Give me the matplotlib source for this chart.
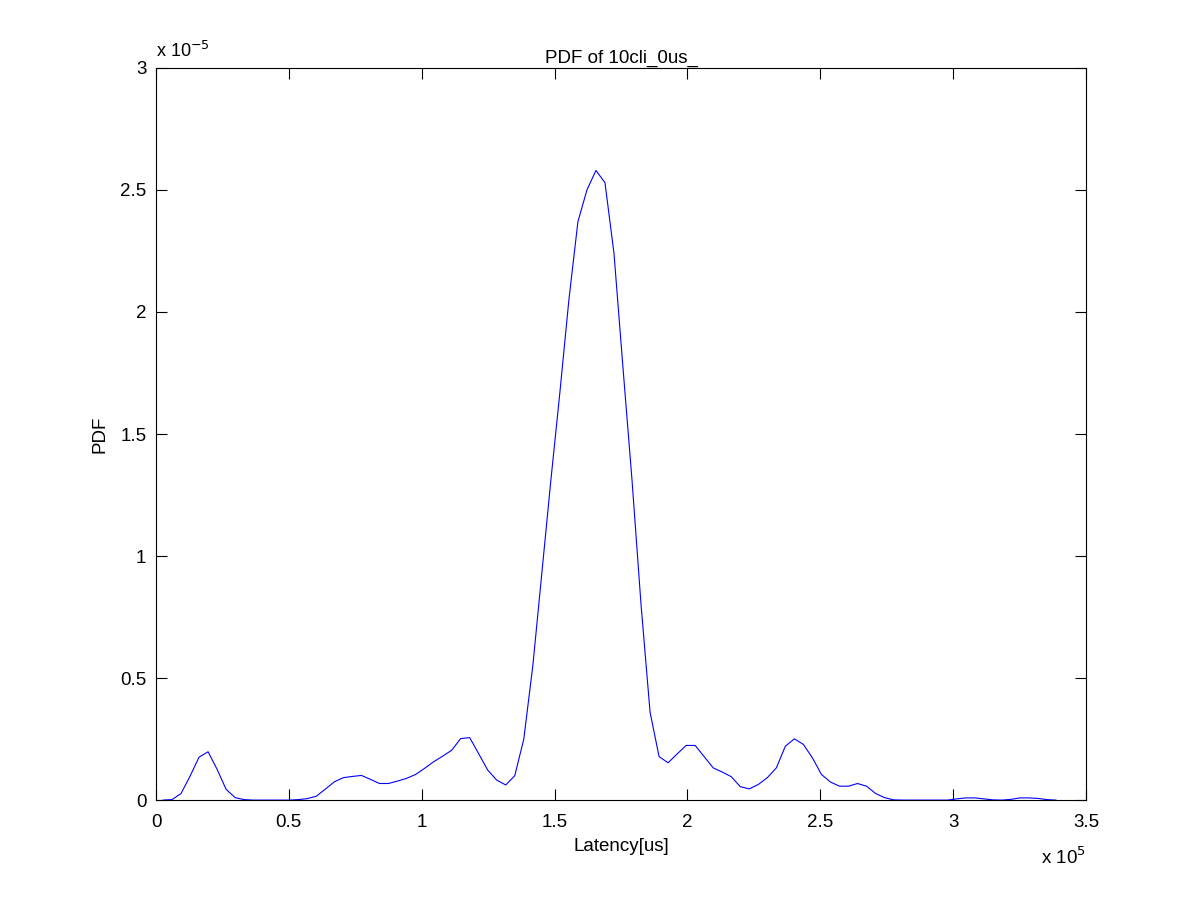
# PDF of latency (ksdensity-style curve), MATLAB look

import matplotlib.pyplot as plt
import numpy as np
from matplotlib.ticker import FuncFormatter

# evaluation grid: 100 evenly spaced points (us)
grid_start = 2630
grid_end = 338700
n_points = 100

# pdf values, in units of 1e-5
pdf_e5 = [
    0.000, 0.002, 0.027, 0.098, 0.176, 0.198, 0.126, 0.044, 0.010, 0.002,
    0.000, 0.000, 0.000, 0.000, 0.000, 0.002, 0.006, 0.016, 0.045, 0.075,
    0.092, 0.097, 0.101, 0.085, 0.068, 0.068, 0.078, 0.089, 0.105, 0.130,
    0.157, 0.180, 0.204, 0.252, 0.256, 0.190, 0.123, 0.082, 0.062, 0.100,
    0.250, 0.550, 0.930, 1.310, 1.670, 2.050, 2.370, 2.500, 2.580, 2.530,
    2.240, 1.770, 1.310, 0.800, 0.360, 0.178, 0.153, 0.189, 0.224, 0.224,
    0.178, 0.132, 0.115, 0.096, 0.055, 0.046, 0.064, 0.092, 0.132, 0.221,
    0.251, 0.228, 0.173, 0.105, 0.074, 0.057, 0.057, 0.068, 0.057, 0.027,
    0.010, 0.001, 0.000, 0.000, 0.000, 0.000, 0.000, 0.000, 0.005, 0.009,
    0.009, 0.005, 0.001, 0.000, 0.003, 0.009, 0.009, 0.007, 0.002, 0.000,
]

x_ticks = [0, 0.5e5, 1e5, 1.5e5, 2e5, 2.5e5, 3e5, 3.5e5]
y_ticks = [0, 0.5e-5, 1e-5, 1.5e-5, 2e-5, 2.5e-5, 3e-5]

latency = np.linspace(grid_start, grid_end, n_points)
pdf = np.array(pdf_e5) * 1e-5

plt.rcParams['font.family'] = ['Liberation Sans', 'DejaVu Sans']
plt.rcParams['font.size'] = 13

fig = plt.figure(figsize=(12, 9), dpi=100)
ax = fig.add_axes([0.13, 0.111, 0.775, 0.8135])

ax.plot(latency, pdf, color='#0000ff', linewidth=0.8)

ax.set_xlim(0, 3.5e5)
ax.set_ylim(0, 3e-5)
ax.set_xticks(x_ticks)
ax.set_yticks(y_ticks)
ax.xaxis.set_major_formatter(FuncFormatter(lambda v, p: '%g' % round(v / 1e5, 3)))
ax.yaxis.set_major_formatter(FuncFormatter(lambda v, p: '%g' % round(v / 1e-5, 3)))
ax.tick_params(direction='in', length=8, width=0.8, top=True, right=True,
               labelsize=13.5)
ax.tick_params(axis='x', pad=10)
ax.tick_params(axis='y', pad=7)
for s in ax.spines.values():
    s.set_linewidth(0.8)

ax.set_title('PDF of 10cli_0us_', fontsize=13.5, pad=4)
ax.set_xlabel('Latency[us]', fontsize=13.5, labelpad=5)
ax.set_ylabel('PDF', fontsize=13.5, labelpad=8)

# MATLAB-style exponent labels
ax.text(0.0, 1.01, r'x 10$^{-5}$', transform=ax.transAxes, fontsize=13,
        ha='left', va='bottom')
ax.text(1.0, -0.063, r'x 10$^{5}$', transform=ax.transAxes, fontsize=13.5,
        ha='right', va='top')

fig.savefig('out.png', dpi=100, facecolor='white')
plt.close(fig)
